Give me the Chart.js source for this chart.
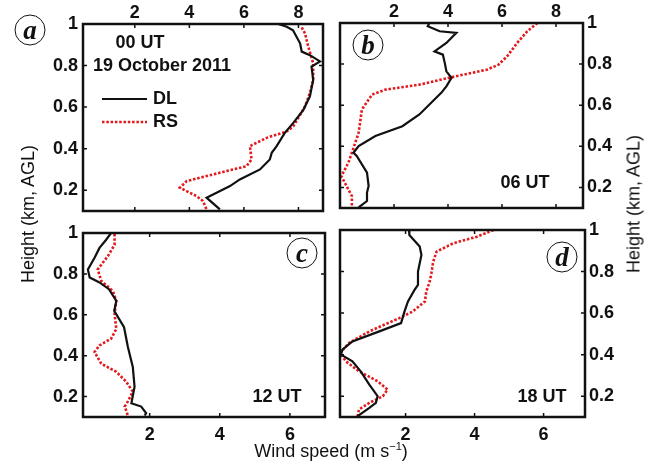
<!DOCTYPE html>
<html>
<head>
<meta charset="utf-8">
<script src="https://cdn.jsdelivr.net/npm/chart.js@4.4.1/dist/chart.umd.min.js"></script>
<style>
  body { margin: 0; background: #fff; }
  #wrap { position: relative; width: 653px; height: 463px; overflow: hidden; font-family: Arial, "Liberation Sans", sans-serif; }
  #wrap canvas { position: absolute; left: 0; top: 0; }
  .title { position: absolute; font-size: 18px; color: #111; white-space: nowrap; transform: translate(-50%, -50%); }
  .vert { transform: translate(-50%, -50%) rotate(-90deg); }
  .tag { position: absolute; width: 29px; height: 29px; border: 1.6px solid #111; border-radius: 50%;
         transform: translate(-50%, -50%); display: flex; align-items: center; justify-content: center;
         font: italic bold 27px "Liberation Serif", "Times New Roman", serif; color: #111; line-height: 1; }
  sup { font-size: 11px; }
</style>
</head>
<body>
<div id="wrap">
  <canvas id="pa" width="653" height="463"></canvas>
  <canvas id="pb" width="653" height="463"></canvas>
  <canvas id="pc" width="653" height="463"></canvas>
  <canvas id="pd" width="653" height="463"></canvas>
  <div class="title vert" style="left:28px; top:214px;">Height (km, AGL)</div>
  <div class="title vert" style="left:634px; top:204px;">Height (km, AGL)</div>
  <div class="title" style="left:331px; top:451px;">Wind speed (m s<sup>−1</sup>)</div>
  <div class="tag" style="left:30px; top:30px;">a</div>
  <div class="tag" style="left:368px; top:45px;">b</div>
  <div class="tag" style="left:302px; top:253px;">c</div>
  <div class="tag" style="left:562px; top:257px;">d</div>
</div>
<script>
// tick values
const yTicks = [0.2, 0.4, 0.6, 0.8, 1];
const xTicksTop = [2, 4, 6, 8];
const xTicksBottom = [2, 4, 6];

// (a) 00 UT
const heightA_DL = [1.0, 0.987, 0.97, 0.907, 0.867, 0.85, 0.82, 0.795, 0.731, 0.651, 0.587, 0.524, 0.476, 0.412, 0.38, 0.348, 0.30, 0.252, 0.22, 0.164, 0.108];
const speedA_DL  = [7.26, 7.57, 7.8, 8.06, 8.12, 8.42, 8.79, 8.48, 8.54, 8.42, 8.18, 7.81, 7.5, 7.2, 7.02, 6.95, 6.59, 5.85, 5.49, 4.63, 5.12];
const heightA_RS = [0.984, 0.955, 0.891, 0.811, 0.731, 0.668, 0.603, 0.507, 0.483, 0.452, 0.412, 0.348, 0.316, 0.276, 0.244, 0.212, 0.172, 0.148, 0.108];
const speedA_RS  = [8.12, 8.24, 8.36, 8.54, 8.54, 8.42, 8.24, 7.81, 7.57, 6.83, 6.22, 6.28, 6.1, 4.87, 3.9, 3.65, 4.26, 4.5, 4.63];

// (b) 06 UT
const heightB_DL = [1.0, 0.984, 0.96, 0.952, 0.903, 0.862, 0.846, 0.806, 0.765, 0.733, 0.692, 0.66, 0.555, 0.498, 0.45, 0.401, 0.369, 0.353, 0.272, 0.207, 0.175, 0.134, 0.103];
const speedB_DL  = [3.31, 3.25, 3.69, 4.31, 3.94, 3.5, 3.81, 3.88, 3.94, 4.13, 3.94, 3.75, 2.94, 2.31, 1.31, 0.69, 0.5, 0.62, 1.0, 1.06, 1.0, 1.0, 0.69];
const heightB_RS = [1.0, 0.96, 0.903, 0.838, 0.797, 0.773, 0.738, 0.7, 0.676, 0.652, 0.579, 0.466, 0.369, 0.32, 0.255, 0.19, 0.158, 0.103];
const speedB_RS  = [7.31, 6.94, 6.56, 6.19, 5.87, 5.44, 4.19, 2.94, 1.69, 1.19, 0.81, 0.69, 0.44, 0.31, 0.05, 0.31, 0.44, 0.44];

// (c) 12 UT
const heightC_DL = [1.0, 0.967, 0.927, 0.879, 0.822, 0.782, 0.758, 0.725, 0.668, 0.62, 0.539, 0.442, 0.345, 0.248, 0.167, 0.151, 0.119, 0.107];
const speedC_DL  = [0.9, 0.76, 0.57, 0.43, 0.24, 0.29, 0.57, 0.84, 1.05, 0.99, 1.27, 1.38, 1.52, 1.57, 1.48, 1.76, 1.9, 1.86];
const heightC_RS = [0.995, 0.943, 0.887, 0.822, 0.766, 0.717, 0.668, 0.604, 0.531, 0.483, 0.45, 0.418, 0.361, 0.321, 0.273, 0.224, 0.176, 0.151, 0.107];
const speedC_RS  = [1.0, 1.0, 0.81, 0.52, 0.62, 0.95, 1.05, 1.0, 1.05, 0.9, 0.57, 0.43, 0.62, 1.05, 1.33, 1.52, 1.38, 1.29, 1.38];

// (d) 18 UT
const heightD_DL = [1.0, 0.976, 0.92, 0.88, 0.8, 0.736, 0.712, 0.656, 0.608, 0.552, 0.512, 0.464, 0.424, 0.4, 0.368, 0.32, 0.256, 0.2, 0.168, 0.144, 0.104];
const speedD_DL  = [2.1, 2.11, 2.41, 2.46, 2.36, 2.36, 2.26, 2.07, 1.97, 1.87, 1.24, 0.46, 0.17, 0.13, 0.46, 0.7, 0.95, 1.19, 1.14, 0.95, 0.61];
const heightD_RS = [1.0, 0.968, 0.936, 0.896, 0.848, 0.792, 0.752, 0.704, 0.656, 0.608, 0.576, 0.512, 0.456, 0.408, 0.368, 0.32, 0.272, 0.232, 0.2, 0.168, 0.136, 0.104];
const speedD_RS  = [4.55, 4.07, 3.38, 2.9, 2.8, 2.75, 2.7, 2.6, 2.56, 2.21, 1.82, 0.95, 0.36, 0.1, 0.27, 0.65, 1.19, 1.48, 1.34, 0.95, 0.65, 0.61];

const W = 653, H = 463;
const FONT = 'Arial, "Liberation Sans", sans-serif';
const INK = '#111';
const RED = '#e3191c';

function pts(speeds, heights) {
  return speeds.map((s, i) => ({ x: s, y: heights[i] }));
}

function dl(speeds, heights) {
  return { label: 'DL', data: pts(speeds, heights), showLine: true, borderColor: INK,
           borderWidth: 2.2, pointRadius: 0, tension: 0 };
}
function rs(speeds, heights) {
  return { label: 'RS', data: pts(speeds, heights), showLine: true, borderColor: RED,
           borderWidth: 2.6, borderDash: [2.5, 1.8], pointRadius: 0, tension: 0 };
}

// box with inward ticks on all four sides, plus in-panel text
const framePlugin = {
  id: 'frame',
  afterDraw(chart, args, opts) {
    const { ctx, chartArea: a, scales } = chart;
    const tl = 4;
    ctx.save();
    ctx.strokeStyle = INK;
    ctx.lineWidth = 1.5;
    ctx.beginPath();
    scales.x.ticks.forEach(t => {
      const px = scales.x.getPixelForValue(t.value);
      ctx.moveTo(px, a.top); ctx.lineTo(px, a.top + tl);
      ctx.moveTo(px, a.bottom); ctx.lineTo(px, a.bottom - tl);
    });
    scales.y.ticks.forEach(t => {
      const py = scales.y.getPixelForValue(t.value);
      ctx.moveTo(a.left, py); ctx.lineTo(a.left + tl, py);
      ctx.moveTo(a.right, py); ctx.lineTo(a.right - tl, py);
    });
    ctx.stroke();
    ctx.lineWidth = 2.5;
    ctx.strokeRect(a.left, a.top, a.right - a.left, a.bottom - a.top);

    ctx.fillStyle = INK;
    ctx.font = 'bold 18px ' + FONT;
    ctx.textAlign = 'center';
    ctx.textBaseline = 'middle';
    (opts.notes || []).forEach(n => ctx.fillText(n.text, n.x, n.y));

    if (opts.legend) {
      const lg = opts.legend;
      chart.data.datasets.forEach((ds, i) => {
        const y = lg.y + i * lg.gap;
        ctx.beginPath();
        ctx.strokeStyle = ds.borderColor;
        ctx.lineWidth = ds.borderWidth;
        ctx.setLineDash(ds.borderDash || []);
        ctx.moveTo(lg.x, y); ctx.lineTo(lg.x + lg.len, y);
        ctx.stroke();
        ctx.setLineDash([]);
        ctx.textAlign = 'left';
        ctx.fillText(ds.label, lg.x + lg.len + 6, y);
      });
    }
    ctx.restore();
  }
};

function makePanel(id, p) {
  const yW = 40;
  const xH = p.xPos === 'top' ? 22 : 28;
  const padding = {
    left: p.yPos === 'left' ? p.area.l - yW : p.area.l,
    right: p.yPos === 'right' ? W - p.area.r - yW : W - p.area.r,
    top: p.xPos === 'top' ? p.area.t - xH : p.area.t,
    bottom: p.xPos === 'bottom' ? H - p.area.b - xH : H - p.area.b
  };
  new Chart(document.getElementById(id), {
    type: 'scatter',
    data: { datasets: p.datasets },
    options: {
      responsive: false,
      animation: false,
      layout: { padding },
      plugins: { legend: { display: false }, tooltip: { enabled: false },
                 frame: { notes: p.notes, legend: p.legend } },
      scales: {
        x: {
          type: 'linear', position: p.xPos, min: p.xMin, max: p.xMax,
          afterBuildTicks: s => { s.ticks = p.xTicks.map(v => ({ value: v })); },
          afterFit: s => { s.height = xH; },
          grid: { display: false, drawTicks: false }, border: { display: false },
          ticks: { color: INK, font: { family: FONT, size: 18, weight: 'bold' },
                   padding: p.xPos === 'top' ? 0 : 7, maxRotation: 0, autoSkip: false }
        },
        y: {
          type: 'linear', position: p.yPos, min: 0.1, max: 1,
          afterBuildTicks: s => { s.ticks = yTicks.map(v => ({ value: v })); },
          afterFit: s => { s.width = yW; },
          grid: { display: false, drawTicks: false }, border: { display: false },
          ticks: { color: INK, font: { family: FONT, size: 18, weight: 'bold' },
                   padding: p.yPos === 'left' ? 5 : 4, autoSkip: false,
                   callback: v => (v === 1 ? '1' : v.toFixed(1)) }
        }
      }
    },
    plugins: [framePlugin]
  });
}

makePanel('pa', {
  area: { l: 83, r: 323, t: 24, b: 211 }, xPos: 'top', yPos: 'left',
  xMin: 0.1, xMax: 8.9, xTicks: xTicksTop,
  datasets: [dl(speedA_DL, heightA_DL), rs(speedA_RS, heightA_RS)],
  notes: [{ text: '00 UT', x: 140, y: 43 }, { text: '19 October 2011', x: 162, y: 66 }],
  legend: { x: 102, y: 99, gap: 23, len: 45 }
});
makePanel('pb', {
  area: { l: 340, r: 583, t: 23, b: 208 }, xPos: 'top', yPos: 'right',
  xMin: 0, xMax: 9, xTicks: xTicksTop,
  datasets: [dl(speedB_DL, heightB_DL), rs(speedB_RS, heightB_RS)],
  notes: [{ text: '06 UT', x: 525, y: 183 }]
});
makePanel('pc', {
  area: { l: 83, r: 325, t: 233, b: 417 }, xPos: 'bottom', yPos: 'left',
  xMin: 0.1, xMax: 7, xTicks: xTicksBottom,
  datasets: [dl(speedC_DL, heightC_DL), rs(speedC_RS, heightC_RS)],
  notes: [{ text: '12 UT', x: 277, y: 397 }]
});
makePanel('pd', {
  area: { l: 340, r: 585, t: 230, b: 417 }, xPos: 'bottom', yPos: 'right',
  xMin: 0.1, xMax: 7.2, xTicks: xTicksBottom,
  datasets: [dl(speedD_DL, heightD_DL), rs(speedD_RS, heightD_RS)],
  notes: [{ text: '18 UT', x: 542, y: 397 }]
});
</script>
</body>
</html>
